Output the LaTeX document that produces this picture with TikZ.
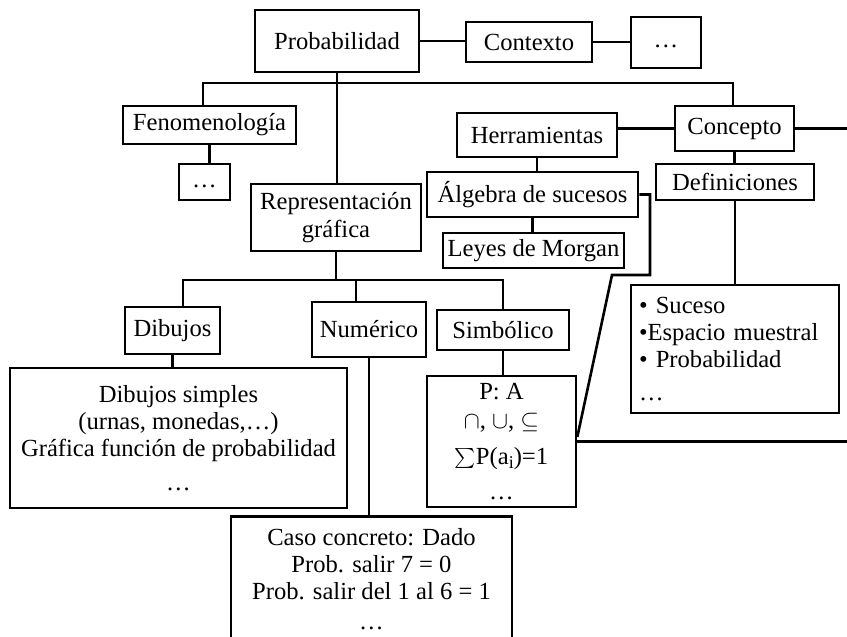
\documentclass[tikz,border=0pt]{standalone}
\usepackage{fontspec}
\setmainfont{Liberation Serif}
\usetikzlibrary{positioning}

\tikzset{
  box/.style={draw, line width=1.3pt, inner sep=0pt, align=center,
              font=\fontsize{12.3}{13.6}\selectfont},
  boxsize/.style 2 args={minimum width=#1*0.5pt, minimum height=#2*0.5pt},
  link/.style={line width=1.3pt}
}

\begin{document}
\begin{tikzpicture}[x=0.5pt, y=-0.5pt]
    \path[use as bounding box, clip] (0,0) rectangle (847,637);

    % upper level
    \node[box, boxsize={164}{62}] (prob) at (337,41) {Probabilidad};
    \node[box, boxsize={126}{40}] (ctx) at (529,42) {Contexto};
    \node[box, boxsize={70}{51}] (ctxmas) at (666,42.5) {\strut…};
    \node[box, boxsize={173}{38}] (fen) at (209.5,125) {Fenomenología};
    \node[box, boxsize={51}{36}] (fenmas) at (204.5,182) {\strut…};
    \node[box, boxsize={170}{67}] (rep) at (336,217.5) {Representación\\gráfica};
    \node[box, boxsize={160}{44}] (herr) at (537,135) {Herramientas};
    \node[box, boxsize={211}{45}] (alg) at (532.5,194.5) {Álgebra de sucesos};
    \node[box, boxsize={181}{35}] (ley) at (533.5,250.5) {Leyes de Morgan};
    \node[box, boxsize={119}{45}] (conc) at (734.5,128.5) {Concepto};
    \node[box, boxsize={158}{36}] (defi) at (735,182) {Definiciones};
    \node[box, boxsize={208}{128}, text width=96pt, align=left] (deflist) at (735,349)
      {• Suceso\\•Espacio muestral\\• Probabilidad\\[3pt]…};

    % lower level
    \node[box, boxsize={95}{47}] (dib) at (172.5,330.5) {Dibujos};
    \node[box, boxsize={114}{55}] (num) at (369,329.5) {Numérico};
    \node[box, boxsize={132}{40}] (sim) at (503,330) {Simbólico};
    \node[box, boxsize={337}{140}] (dibej) at (178.5,438)
      {Dibujos simples\\(urnas, monedas,…)\\Gráfica función de probabilidad\\[3.5pt]…};
    \node[box, boxsize={149}{131}] (simej) at (501.5,441.5)
      {P: A\\[1pt]$\cap$, $\cup$, $\subseteq$\\[4pt]$\sum$P(a\raisebox{-2pt}{\fontsize{9}{9}\selectfont i})=1\\[4pt]…};
    \node[box, boxsize={281}{126}, anchor=north] (numej) at (371.5,515)
      {Caso concreto: Dado\\Prob. salir 7 = 0\\Prob. salir del 1 al 6 = 1\\[1.5pt]…};

    \coordinate (busA) at (203,83);
    \coordinate (busB) at (733,83);
    \coordinate (busC) at (183,280);
    \coordinate (busD) at (503,280);
    \coordinate (busN) at (356,280);
    \coordinate (codoA) at (650,275);
    \coordinate (codoB) at (612,275);
    \coordinate (borde) at (847,0);

    % connectors
    \draw[link] (prob.east) -- (prob.east -| ctx.west);
    \draw[link] (ctx.east) -- (ctx.east -| ctxmas.west);
    \draw[link] (prob.south) -- (prob.south |- rep.north);
    \draw[link] (busA |- fen.north) -- (busA) -- (busB) -- (busB |- conc.north);
    \draw[link] (fen.south) -- (fen.south |- fenmas.north);
    \draw[link] (conc.west) -- (conc.west -| herr.east);
    \draw[link] (herr.south) -- (herr.south |- alg.north);
    \draw[link] (alg.south) -- (alg.south |- ley.north);
    \draw[link] (alg.east) -| (codoA) -- (codoB) -- (simej.east |- 0,437);
    \draw[link] (conc.east) -- (conc.east -| borde);
    \draw[link] (simej.east) -- (simej.east -| borde);
    \draw[link] (conc.south) -- (conc.south |- defi.north);
    \draw[link] (defi.south) -- (defi.south |- deflist.north);
    \draw[link] (rep.south) -- (rep.south |- busC);
    \draw[link] (busC |- dib.north) -- (busC) -- (busD) -- (sim.north);
    \draw[link] (busN) -- (busN |- num.north);
    \draw[link] (dib.south) -- (dib.south |- dibej.north);
    \draw[link] (num.south) -- (num.south |- numej.north);
    \draw[link] (sim.south) -- (sim.south |- simej.north);
\end{tikzpicture}
\end{document}
